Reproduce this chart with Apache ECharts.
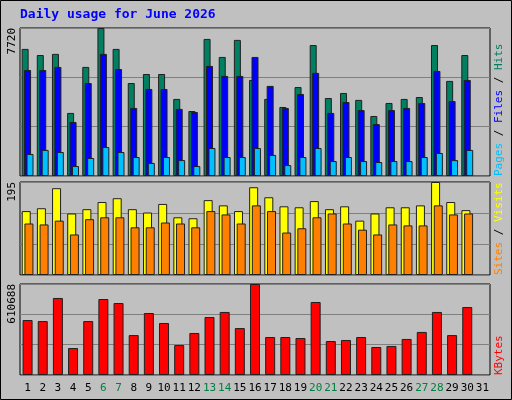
<!DOCTYPE html>
<html><head><meta charset="utf-8">
<script src="https://cdn.jsdelivr.net/npm/echarts@6/dist/echarts.min.js"></script>
<style>html,body{margin:0;padding:0;background:#C0C0C0}#c{width:512px;height:400px}</style>
</head><body><div id="c"></div>
<script>
const days = Array.from({length:31},(_,i)=>String(i+1));
const weekend = [6,7,13,14,20,21,27,28];
const hits  = [6630,6310,6370,3290,5690,7720,6630,4850,5320,5320,4020,3390,7150,6210,7100,5010,4020,3600,4640,6830,4070,4330,3970,3130,3810,4020,4120,6830,4960,6310,null];
const files = [5530,5530,5690,2820,4850,6370,5580,3550,4540,4540,3500,3340,5740,5220,5220,6210,4700,3550,4280,5380,3290,3860,3440,2710,3440,3550,3810,5480,3910,5010,null];
const pages = [1150,1360,1250,520,940,1510,1250,990,680,990,830,520,1460,990,990,1460,1100,570,990,1460,780,990,780,730,780,780,990,1200,830,1360,null];
const visits= [134,140,182,129,138,153,161,138,131,149,121,119,157,146,134,184,163,144,142,155,138,144,114,129,142,142,146,195,153,136,null];
const sites = [108,106,114,85,117,121,121,100,100,110,108,100,134,127,108,146,134,89,98,121,129,108,95,85,106,104,104,146,127,129,null];
const kbytes= [369000,362000,517000,181000,362000,510000,483000,268000,416000,349000,201000,282000,389000,423000,315000,610688,255000,255000,248000,490000,228000,235000,255000,188000,195000,242000,289000,423000,268000,456000,null];
const maxLabels = ['7720','195','610688'];
const maxVals = [7720,195,610688];

const font = 'DejaVu Sans Mono';
const grids = [
  {left:20,right:22,top:28,height:148},
  {left:20,right:22,top:182,height:93},
  {left:20,right:22,top:284,height:91}
].map(g=>Object.assign(g,{show:true,backgroundColor:'#C0C0C0',borderColor:'#000',borderWidth:1}));
const xAxes = grids.map((g,i)=>({gridIndex:i,type:'category',data:days,
  axisTick:{show:false},axisLine:{show:false},
  axisLabel:{show:i===2,fontFamily:font,fontSize:11,margin:8,interval:0,
    color:(v)=>weekend.includes(+v)?'#008040':'#000'}}));
const yAxes = maxVals.map((m,i)=>({gridIndex:i,type:'value',min:0,max:m,interval:m/3,
  axisLabel:{show:false},axisLine:{show:false},axisTick:{show:false},
  splitLine:{show:true,lineStyle:{color:'#808080',width:1}}}));
const bs = {borderColor:'#202020',borderWidth:1};
const series = [
  {type:'bar',xAxisIndex:0,yAxisIndex:0,data:hits,barWidth:7,barGap:'-65%',itemStyle:Object.assign({color:'#008060'},bs)},
  {type:'bar',xAxisIndex:0,yAxisIndex:0,data:files,barWidth:7,barGap:'-65%',itemStyle:Object.assign({color:'#0000FF'},bs)},
  {type:'bar',xAxisIndex:0,yAxisIndex:0,data:pages,barWidth:7,barGap:'-65%',itemStyle:Object.assign({color:'#00C0FF'},bs)},
  {type:'bar',xAxisIndex:1,yAxisIndex:1,data:visits,barWidth:9,barGap:'-70%',itemStyle:Object.assign({color:'#FFFF00'},bs)},
  {type:'bar',xAxisIndex:1,yAxisIndex:1,data:sites,barWidth:9,barGap:'-70%',itemStyle:Object.assign({color:'#FF8000'},bs)},
  {type:'bar',xAxisIndex:2,yAxisIndex:2,data:kbytes,barWidth:10,itemStyle:Object.assign({color:'#FF0000'},bs)}
];
const lblY = [28,182,284];
const graphic = [
  {type:'rect',shape:{x:0.5,y:0.5,width:511,height:399},style:{fill:'none',stroke:'#000',lineWidth:1}},
  {type:'text',x:20,y:8,style:{text:'Daily usage for June 2026',fill:'#0000FF',font:'bold 13px '+font}},
  ...maxLabels.map((t,i)=>({type:'text',x:7,y:lblY[i],rotation:Math.PI/2,
    style:{text:t,fill:'#000',font:'11px '+font,align:'right',verticalAlign:'top'}})),
  {type:'text',x:494,y:176,rotation:Math.PI/2,style:{text:'{a|Pages} / {b|Files} / {c|Hits}',font:'11px '+font,fill:'#000',align:'left',verticalAlign:'top',
    rich:{a:{fill:'#00C0FF',font:'11px '+font},b:{fill:'#0000FF',font:'11px '+font},c:{fill:'#008060',font:'11px '+font}}}},
  {type:'text',x:494,y:275,rotation:Math.PI/2,style:{text:'{a|Sites} / {b|Visits}',font:'11px '+font,fill:'#000',align:'left',verticalAlign:'top',
    rich:{a:{fill:'#FF8000',font:'11px '+font},b:{fill:'#FFFF00',font:'11px '+font}}}},
  {type:'text',x:494,y:375,rotation:Math.PI/2,style:{text:'KBytes',fill:'#FF0000',font:'11px '+font,align:'left',verticalAlign:'top'}}
];
const chart = echarts.init(document.getElementById('c'));
chart.setOption({backgroundColor:'#C0C0C0',animation:false,grid:grids,xAxis:xAxes,yAxis:yAxes,series,graphic});
</script></body></html>
